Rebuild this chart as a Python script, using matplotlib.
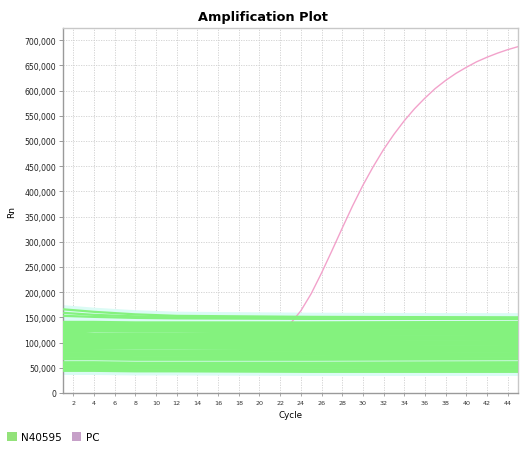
import matplotlib
matplotlib.use("Agg")
import matplotlib.pyplot as plt
from matplotlib.patches import Patch
from matplotlib.ticker import FuncFormatter, MultipleLocator

well_cycles = [1, 4, 8, 12, 25, 45]

# N40595 wells, Rn in thousands at the cycles above
wells = [
    [166, 161, 156, 153, 151, 150],
    [159, 155, 152, 150, 149, 149],
    [153, 151, 149, 148, 147, 147],
    [141, 141, 140, 140, 140, 141],
    [139, 139, 138, 138, 138, 139],
    [137, 137, 136, 136, 136, 137],
    [135, 135, 134, 134, 134, 135],
    [133, 133, 132, 132, 132, 133],
    [130, 130, 130, 130, 129, 130],
    [128, 128, 127, 127, 127, 128],
    [125, 125, 125, 125, 124, 125],
    [123, 123, 122, 122, 122, 123],
    [121, 118, 118, 118, 121, 121],
    [118, 116, 116, 116, 118, 118],
    [116, 115, 115, 115, 115, 116],
    [113, 113, 113, 113, 112, 113],
    [111, 111, 110, 110, 110, 111],
    [108, 108, 108, 108, 107, 108],
    [106, 106, 105, 105, 105, 106],
    [103, 103, 103, 103, 102, 103],
    [101, 101, 100, 100, 100, 101],
    [98, 98, 98, 98, 97, 98],
    [96, 96, 95, 95, 95, 96],
    [93, 93, 93, 93, 92, 93],
    [91, 91, 90, 90, 90, 91],
    [88, 89, 89, 89, 88, 88],
    [86, 85, 84, 84, 86, 86],
    [84, 84, 84, 84, 84, 85],
    [82, 82, 81, 81, 81, 82],
    [79, 79, 79, 79, 78, 79],
    [77, 77, 76, 76, 76, 77],
    [74, 74, 74, 74, 73, 74],
    [72, 72, 71, 71, 71, 72],
    [69, 69, 69, 69, 68, 69],
    [67, 67, 66, 66, 66, 67],
    [61, 61, 60, 60, 60, 61],
    [58, 58, 58, 58, 57, 58],
    [56, 56, 55, 55, 55, 56],
    [53, 53, 53, 53, 52, 53],
    [51, 51, 50, 50, 50, 51],
    [48, 48, 48, 48, 47, 48],
    [46, 46, 45, 45, 44, 45],
    [44, 44, 43, 43, 42, 42],
]

# positive control, Rn in thousands for cycles 1..45
pc_cycles = list(range(1, 46))
pc_values = [
    134, 133, 133, 132, 132, 131, 131, 131, 130, 130,
    130, 130, 129, 129, 129, 129, 129, 129, 129, 129,
    130, 131, 138, 163, 197, 238, 282, 327, 371, 412,
    449, 483, 513, 540, 564, 585, 604, 620, 634, 646,
    657, 666, 674, 681, 687,
]

green = "#84f27e"
pink = "#f2a2cb"

fig = plt.figure(figsize=(5.31, 4.56), dpi=100)
ax = fig.add_axes([63 / 531, 1 - 394 / 456, 455 / 531, 365 / 456])

# pale halo round the negative band
for w in wells:
    ax.plot(well_cycles, [v * 1000 for v in w], color="#dbfbf5",
            linewidth=6, solid_capstyle="butt", zorder=1)

ax.plot(pc_cycles, [v * 1000 for v in pc_values], color=pink,
        linewidth=1.0, zorder=2)

for w in wells:
    ax.plot(well_cycles, [v * 1000 for v in w], color=green,
            linewidth=1.6, solid_capstyle="butt", zorder=3)

ax.set_xlim(1, 45)
ax.set_ylim(0, 724000)
ax.set_xticks(range(2, 46, 2))
ax.yaxis.set_major_locator(MultipleLocator(50000))
ax.yaxis.set_major_formatter(FuncFormatter(lambda v, p: f"{int(v):,}"))

ax.grid(color="#cfcfcf", linestyle=(0, (1.5, 1.5)), linewidth=0.6, zorder=0)
ax.set_axisbelow(True)

for side in ["left", "bottom"]:
    ax.spines[side].set_color("#9a9a9a")
    ax.spines[side].set_linewidth(1.0)
for side in ["top", "right"]:
    ax.spines[side].set_color("#c8c8c8")
    ax.spines[side].set_linewidth(1.0)

ax.tick_params(axis="y", labelsize=5.6, length=3, width=0.7,
               color="#9a9a9a", pad=2, labelcolor="#222222")
ax.tick_params(axis="x", labelsize=4.6, length=2, width=0.6,
               color="#9a9a9a", pad=3, labelcolor="#333333")

ax.set_xlabel("Cycle", fontsize=6.3, labelpad=4)
ax.set_ylabel("Rn", fontsize=6.5, labelpad=6)
fig.text(0.496, 1 - 17 / 456, "Amplification Plot", ha="center", va="center",
         fontsize=9.3, fontweight="bold")

handles = [Patch(facecolor="#93e27a", edgecolor="none", label="N40595"),
           Patch(facecolor="#c6a0c8", edgecolor="none", label="PC")]
fig.legend(handles=handles, loc="center left", bbox_to_anchor=(0.0, 1 - 438 / 456),
           ncol=2, frameon=False, fontsize=7.5, handlelength=0.9,
           handleheight=0.9, handletextpad=0.4, columnspacing=1.0,
           borderaxespad=0.3)

fig.savefig("out.png", dpi=100)
